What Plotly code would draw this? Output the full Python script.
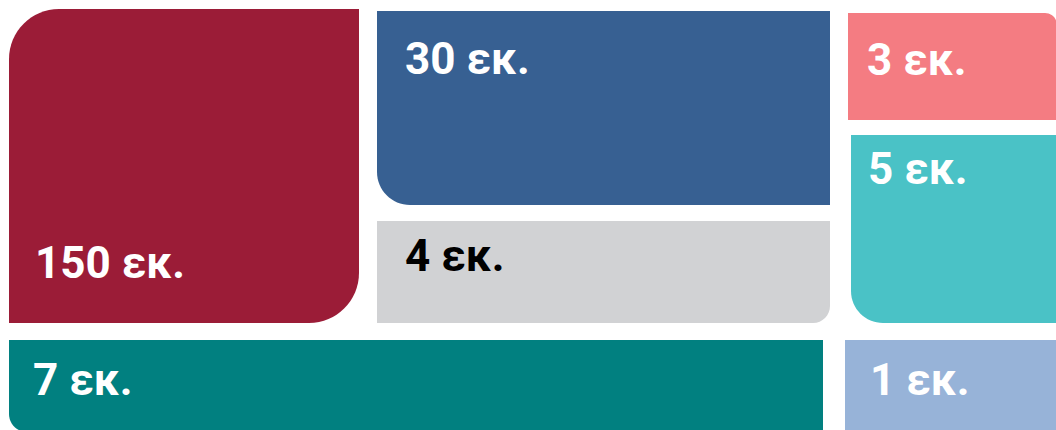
import plotly.graph_objects as go

# ---- data ----
values = [150, 30, 3, 5, 4, 7, 1]
unit = "εκ."
labels = [f"{v} {unit}" for v in values]

# ---- styles ----
fill_colors = ["#9B1C37", "#376092", "#F47C82", "#4AC2C6", "#D1D2D4", "#018080", "#97B3D8"]
text_colors = ["white", "white", "white", "white", "black", "white", "white"]

# ---- layout of tiles (pixels; x0, x1, y0, y1, radii tl,tr,br,bl) ----
boxes = [
    (9, 359, 9, 323, (50, 0, 50, 0)),
    (377, 830, 11, 205, (0, 0, 0, 33)),
    (848, 1057, 13, 120, (0, 12, 0, 0)),
    (851, 1060, 135, 323, (0, 0, 0, 32)),
    (377, 830, 221, 323, (0, 0, 17, 0)),
    (9, 823, 340, 432, (0, 0, 0, 18)),
    (845, 1060, 340, 434, (0, 0, 0, 0)),
]
label_pos = [(33, 263), (403, 59), (865, 60), (866, 169), (403, 256), (31, 380), (868, 380)]

K = 0.5523


def rounded_path(x0, x1, y0, y1, r):
    tl, tr, br, bl = r
    p = [f"M {x0 + tl},{y0}", f"L {x1 - tr},{y0}"]
    if tr:
        p.append(f"C {x1 - tr + K * tr},{y0} {x1},{y0 + tr - K * tr} {x1},{y0 + tr}")
    p.append(f"L {x1},{y1 - br}")
    if br:
        p.append(f"C {x1},{y1 - br + K * br} {x1 - br + K * br},{y1} {x1 - br},{y1}")
    p.append(f"L {x0 + bl},{y1}")
    if bl:
        p.append(f"C {x0 + bl - K * bl},{y1} {x0},{y1 - bl + K * bl} {x0},{y1 - bl}")
    p.append(f"L {x0},{y0 + tl}")
    if tl:
        p.append(f"C {x0},{y0 + tl - K * tl} {x0 + tl - K * tl},{y0} {x0 + tl},{y0}")
    p.append("Z")
    return " ".join(p)


fig = go.Figure()
fig.add_trace(go.Scatter(x=[0, 1056], y=[0, 430], mode="markers",
                         marker=dict(opacity=0), hoverinfo="skip", showlegend=False))

for (x0, x1, y0, y1, r), col in zip(boxes, fill_colors):
    fig.add_shape(type="path", path=rounded_path(x0, x1, y0, y1, r),
                  xref="x", yref="y", fillcolor=col, line=dict(width=0), layer="below")

for lab, (tx, ty), tc in zip(labels, label_pos, text_colors):
    fig.add_annotation(x=tx, y=ty, xref="x", yref="y", text=lab,
                       showarrow=False, xanchor="left", yanchor="middle",
                       font=dict(family="Roboto", size=44, color=tc, weight=700))

fig.update_xaxes(range=[0, 1056], visible=False, fixedrange=True)
fig.update_yaxes(range=[430, 0], visible=False, fixedrange=True)
fig.update_layout(width=1056, height=430, margin=dict(l=0, r=0, t=0, b=0),
                  paper_bgcolor="white", plot_bgcolor="white", showlegend=False)

fig.write_html("out.html", config={"displayModeBar": False},
               post_script="document.body.style.margin='0';"
                           "document.body.style.overflow='hidden';")
